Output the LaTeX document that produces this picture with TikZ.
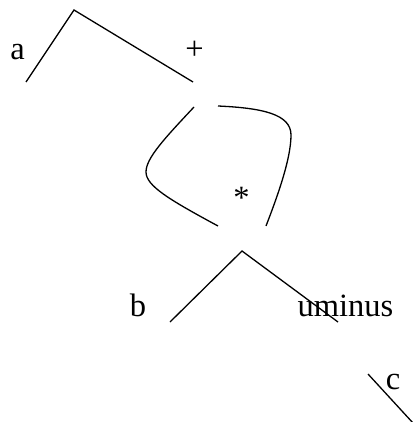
\documentclass[tikz,border=0pt]{standalone}
\usepackage{fontspec}
\setmainfont{Liberation Serif}
\begin{document}
\begin{tikzpicture}[x=1pt,y=-1pt,
  lbl/.style={inner sep=0pt,anchor=base,font=\fontsize{32.5}{40}\selectfont},
  edge/.style={line width=1.3pt,line cap=butt}]
\useasboundingbox (0,0) rectangle (412,422);
% labels
\node[lbl] (a) at (17.5,60) {a};
\node[lbl] (plus) at (194.5,60) {+};
\node[lbl] (star) at (241.5,208) {*};
\node[lbl] (b) at (138,316) {b};
\node[lbl] (um) at (345.5,316.5) {uminus};
\node[lbl] (c) at (393,389) {c};
% coordinates
\coordinate (p1) at (26,82);
\coordinate (p2) at (74,10);
\coordinate (p3) at (193,82);
\coordinate (l1) at (194,107);
\coordinate (l2) at (146,172);
\coordinate (l3) at (218,226);
\coordinate (r1) at (218,106);
\coordinate (r2) at (291,135);
\coordinate (r3) at (266,226);
\coordinate (q1) at (170,322);
\coordinate (q2) at (242,251);
\coordinate (q3) at (338,322);
\coordinate (s1) at (368,374);
\coordinate (s2) at (413,423);
% lines
\draw[edge] (p1) -- (p2) -- (p3);
\draw[edge] (l1) .. controls (165,138) and (146,158) .. (l2)
  .. controls (146,186) and (170,200) .. (l3);
\draw[edge] (r1) .. controls (262,108) and (291,114) .. (r2)
  .. controls (291,160) and (276,200) .. (r3);
\draw[edge] (q1) -- (q2) -- (q3);
\draw[edge] (s1) -- (s2);
\end{tikzpicture}
\end{document}
